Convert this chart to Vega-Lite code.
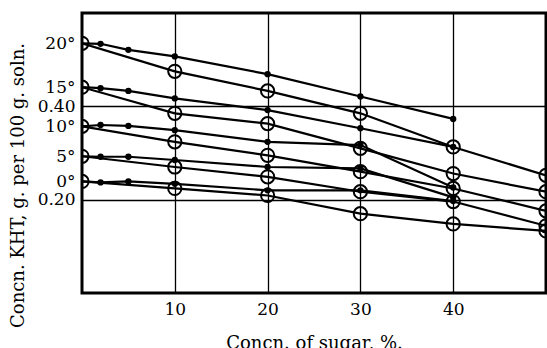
{
  "$schema": "https://vega.github.io/schema/vega-lite/v6.json",
  "width": 464,
  "height": 280,
  "autosize": {"type": "none"},
  "padding": {"left": 82, "top": 13, "right": 1, "bottom": 55},
  "background": "white",
  "config": {
    "view": {"stroke": "black", "strokeWidth": 3},
    "axis": {"labelFont": "DejaVu Serif", "labelFontSize": 17, "labelColor": "black", "titleFont": "DejaVu Serif", "titleFontSize": 18, "titleFontWeight": "normal", "titleColor": "black", "ticks": false, "domain": false, "labelOverlap": false, "labelFlush": false}
  },
  "data": {
    "values": [
      {"t": "20", "s": "dot", "x": 0, "y": 0.535}, {"t": "20", "s": "dot", "x": 2, "y": 0.534}, {"t": "20", "s": "dot", "x": 5, "y": 0.521}, {"t": "20", "s": "dot", "x": 10, "y": 0.507}, {"t": "20", "s": "dot", "x": 20, "y": 0.469}, {"t": "20", "s": "dot", "x": 30, "y": 0.421}, {"t": "20", "s": "dot", "x": 40, "y": 0.373},
      {"t": "15", "s": "dot", "x": 0, "y": 0.441}, {"t": "15", "s": "dot", "x": 2, "y": 0.439}, {"t": "15", "s": "dot", "x": 5, "y": 0.433}, {"t": "15", "s": "dot", "x": 10, "y": 0.417}, {"t": "15", "s": "dot", "x": 20, "y": 0.392}, {"t": "15", "s": "dot", "x": 30, "y": 0.353}, {"t": "15", "s": "dot", "x": 40, "y": 0.313},
      {"t": "10", "s": "dot", "x": 0, "y": 0.357}, {"t": "10", "s": "dot", "x": 2, "y": 0.36}, {"t": "10", "s": "dot", "x": 5, "y": 0.358}, {"t": "10", "s": "dot", "x": 10, "y": 0.349}, {"t": "10", "s": "dot", "x": 20, "y": 0.324}, {"t": "10", "s": "dot", "x": 30, "y": 0.317}, {"t": "10", "s": "dot", "x": 40, "y": 0.226},
      {"t": "5", "s": "dot", "x": 0, "y": 0.293}, {"t": "5", "s": "dot", "x": 2, "y": 0.292}, {"t": "5", "s": "dot", "x": 5, "y": 0.292}, {"t": "5", "s": "dot", "x": 10, "y": 0.285}, {"t": "5", "s": "dot", "x": 20, "y": 0.27}, {"t": "5", "s": "dot", "x": 30, "y": 0.267}, {"t": "5", "s": "dot", "x": 40, "y": 0.205},
      {"t": "0", "s": "dot", "x": 0, "y": 0.239}, {"t": "0", "s": "dot", "x": 2, "y": 0.237}, {"t": "0", "s": "dot", "x": 5, "y": 0.239}, {"t": "0", "s": "dot", "x": 10, "y": 0.234}, {"t": "0", "s": "dot", "x": 20, "y": 0.22}, {"t": "0", "s": "dot", "x": 30, "y": 0.22}, {"t": "0", "s": "dot", "x": 40, "y": 0.197},
      {"t": "20", "s": "circle", "x": 0, "y": 0.535}, {"t": "20", "s": "circle", "x": 10, "y": 0.475}, {"t": "20", "s": "circle", "x": 20, "y": 0.433}, {"t": "20", "s": "circle", "x": 30, "y": 0.385}, {"t": "20", "s": "circle", "x": 40, "y": 0.313}, {"t": "20", "s": "circle", "x": 50, "y": 0.252},
      {"t": "15", "s": "circle", "x": 0, "y": 0.441}, {"t": "15", "s": "circle", "x": 10, "y": 0.385}, {"t": "15", "s": "circle", "x": 20, "y": 0.363}, {"t": "15", "s": "circle", "x": 30, "y": 0.31}, {"t": "15", "s": "circle", "x": 40, "y": 0.256}, {"t": "15", "s": "circle", "x": 50, "y": 0.217},
      {"t": "10", "s": "circle", "x": 0, "y": 0.357}, {"t": "10", "s": "circle", "x": 10, "y": 0.324}, {"t": "10", "s": "circle", "x": 20, "y": 0.295}, {"t": "10", "s": "circle", "x": 30, "y": 0.26}, {"t": "10", "s": "circle", "x": 40, "y": 0.224}, {"t": "10", "s": "circle", "x": 50, "y": 0.176},
      {"t": "5", "s": "circle", "x": 0, "y": 0.293}, {"t": "5", "s": "circle", "x": 10, "y": 0.27}, {"t": "5", "s": "circle", "x": 20, "y": 0.249}, {"t": "5", "s": "circle", "x": 30, "y": 0.217}, {"t": "5", "s": "circle", "x": 40, "y": 0.196}, {"t": "5", "s": "circle", "x": 50, "y": 0.144},
      {"t": "0", "s": "circle", "x": 0, "y": 0.239}, {"t": "0", "s": "circle", "x": 10, "y": 0.224}, {"t": "0", "s": "circle", "x": 20, "y": 0.209}, {"t": "0", "s": "circle", "x": 30, "y": 0.17}, {"t": "0", "s": "circle", "x": 40, "y": 0.148}, {"t": "0", "s": "circle", "x": 50, "y": 0.133}
    ]
  },
  "encoding": {
    "x": {"field": "x", "type": "quantitative", "scale": {"domain": [0, 50], "nice": false},
      "axis": {"values": [10, 20, 30, 40], "title": "Concn. of sugar, %.", "grid": true, "gridColor": "black", "gridWidth": 1.3, "gridOpacity": 1, "labelPadding": 8, "titleBaseline": "alphabetic", "titleY": 55}},
    "y": {"field": "y", "type": "quantitative", "scale": {"domain": [0, 0.6], "nice": false, "zero": false},
      "axis": {"values": [0.2, 0.239, 0.293, 0.357, 0.4, 0.441, 0.535],
        "labelExpr": "datum.value == 0.2 ? '0.20' : datum.value == 0.4 ? '0.40' : datum.value > 0.5 ? '20°' : datum.value > 0.42 ? '15°' : datum.value > 0.33 ? '10°' : datum.value > 0.26 ? '5°' : '0°'",
        "title": "Concn. KHT, g. per 100 g. soln.", "grid": true, "gridColor": "black", "gridWidth": 1.5,
        "gridOpacity": {"condition": {"test": "datum.value == 0.2 || datum.value == 0.4", "value": 1}, "value": 0},
        "labelPadding": 7, "titleAngle": -90, "titleBaseline": "alphabetic", "titleAlign": "center", "titleX": -59, "titleY": 172}}
  },
  "layer": [
    {"mark": {"type": "line", "color": "black", "strokeWidth": 2.2, "clip": true},
      "encoding": {"detail": [{"field": "t"}, {"field": "s"}], "order": {"field": "x", "type": "quantitative"}}},
    {"transform": [{"filter": "datum.s == 'circle'"}],
      "mark": {"type": "point", "shape": "circle", "filled": false, "color": "black", "strokeWidth": 2, "size": 175, "opacity": 1, "clip": true}},
    {"transform": [{"filter": "datum.s == 'dot' && datum.x > 0"}],
      "mark": {"type": "point", "shape": "circle", "filled": true, "color": "black", "size": 40, "opacity": 1, "clip": true}}
  ]
}
